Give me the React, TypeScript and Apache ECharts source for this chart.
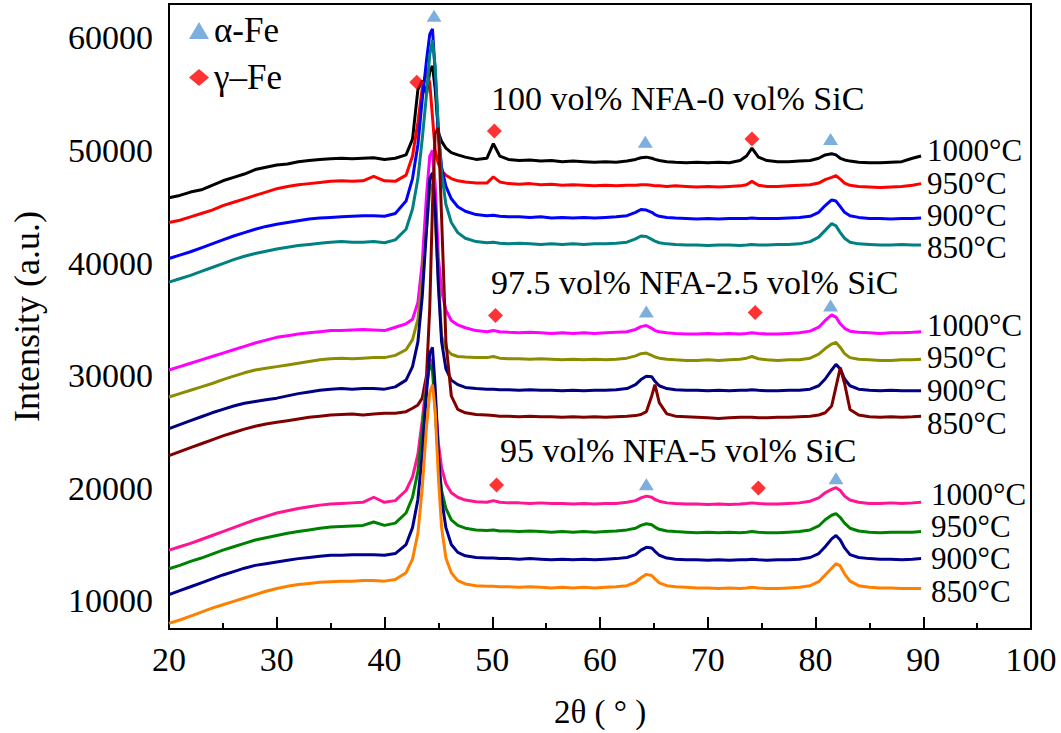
import React, { useEffect, useRef } from "react";
import * as echarts from "echarts";

// 2θ grid shared by all patterns
const twoTheta = [
  20, 21, 22, 23, 24, 25, 26, 27, 28, 29, 30, 31, 32, 33, 34, 35, 36, 37, 38, 39, 40, 41,
  42, 42.6, 43.1, 43.5, 43.9, 44.2, 44.45, 44.7, 45.0, 45.3, 45.7, 46.2, 46.8, 47.5, 48.5,
  49.5, 50.1, 50.7, 51.5, 52.5, 53.5, 54.5, 55.5, 56.5, 57.5, 58.5, 59.5, 60.5, 61.5, 62.5,
  63.3, 63.8, 64.3, 64.8, 65.1, 65.5, 66.2, 67, 68, 69, 70, 71, 72, 73,
  73.6, 74.1, 74.7, 75.5, 76.5, 77.5, 78.5, 79.5, 80.3, 80.9, 81.5, 81.9, 82.3, 82.7, 83.2, 84, 85, 86, 87, 88, 89, 89.8,
];

// 100 vol% NFA-0 vol% SiC
const g1_1000 = [
  45800, 46000, 46300, 46500, 46900, 47300, 47600, 47900, 48300, 48500, 48700, 48800, 49000, 49100, 49200, 49250, 49300, 49250, 49300, 49350, 49200, 49300,
  49600, 51000, 55400, 56200, 55000, 57000, 57500, 55500, 51600, 50800, 50200, 49800, 49600, 49400, 49200,
  49300, 50600, 49500, 49200, 49100, 49150, 49050, 49100, 49000, 49050, 49000, 48950, 49000, 48950, 49050,
  49200, 49350, 49400, 49300, 49200, 49100, 49000, 48950, 48900, 48950, 48900, 48950, 48900, 49100,
  49500, 50200, 49400, 49100, 49000, 49000, 49050, 49100, 49300, 49600, 49700, 49600, 49300, 49150, 49050, 48950, 48900, 48900, 48950, 49000, 49300, 49500,
];
const g1_950 = [
  43600, 43800, 44100, 44400, 44700, 45100, 45400, 45700, 46000, 46300, 46600, 46800, 46950, 47050, 47150, 47250, 47300, 47250, 47300, 47700, 47300, 47250,
  47800, 49500, 52500, 55500, 57000, 56000, 53000, 50000, 48800, 48200, 47800, 47500, 47300, 47200, 47100,
  47100, 47650, 47200, 47050, 47000, 47050, 46950, 47000, 46900, 46950, 46900, 46850, 46900, 46850, 46900,
  46900, 46950, 46950, 46900, 46850, 46850, 46800, 46850, 46800, 46750, 46800, 46750, 46800, 46850,
  46950, 47250, 46900, 46800, 46800, 46850, 46900, 46950, 47100, 47400, 47600, 47750, 47450, 47100, 46900, 46800, 46750, 46700, 46750, 46800, 46900, 47050,
];
const g1_900 = [
  40400, 40700, 41000, 41350, 41700, 42050, 42400, 42700, 43000, 43250, 43450, 43600, 43750, 43900, 44000, 44050, 44100, 44150, 44200, 44200, 44150, 44400,
  45500, 47500, 50500, 54500, 58000, 60300, 60800, 57000, 51500, 48500, 46800, 45700, 45000, 44600, 44300,
  44200, 44250, 44150, 44100, 44100, 44050, 44100, 44000, 44050, 44000, 44050, 44000, 44050, 44100, 44200,
  44500, 44750, 44700, 44500, 44300, 44150, 44050, 44000, 43950, 43900, 43950, 43900, 43950, 43950,
  43950, 44000, 43950, 43950, 43950, 44000, 44050, 44150, 44500, 45100, 45600, 45500, 45000, 44500, 44200, 44050, 43950, 43950, 43900, 43950, 43950, 44000,
];
const g1_850 = [
  38300, 38600, 38900, 39250, 39600, 39950, 40300, 40600, 40850, 41050, 41250, 41400, 41550, 41650, 41750, 41850, 41900, 41850, 41850, 41900, 41800, 42050,
  43000, 44800, 47500, 51000, 55000, 58500, 59800, 57500, 52000, 48000, 45200, 43600, 42700, 42200, 41900,
  41800, 41850, 41750, 41700, 41750, 41700, 41650, 41700, 41650, 41700, 41650, 41700, 41700, 41750, 41850,
  42150, 42400, 42350, 42100, 41950, 41800, 41700, 41650, 41600, 41600, 41550, 41600, 41600, 41550,
  41600, 41650, 41600, 41600, 41650, 41650, 41700, 41900, 42300, 42900, 43500, 43300, 42700, 42200, 41850, 41700, 41650, 41600, 41600, 41650, 41600, 41600,
];

// 97.5 vol% NFA-2.5 vol% SiC
const g2_1000 = [
  30500, 30800, 31100, 31400, 31700, 32000, 32300, 32600, 32900, 33150, 33400, 33550, 33700, 33800, 33900, 34000, 34000, 34050, 34100, 34050, 34000, 34300,
  34600, 35000, 36500, 40000, 46000, 49500, 50000, 47000, 40500, 37500, 35800, 34900, 34500, 34250, 34000,
  33900, 34000, 33900, 33850, 33800, 33850, 33800, 33750, 33800, 33750, 33800, 33750, 33800, 33850, 33900,
  34100, 34350, 34450, 34200, 34000, 33900, 33800, 33750, 33700, 33700, 33750, 33700, 33750, 33700,
  33750, 33800, 33750, 33700, 33700, 33750, 33800, 33950, 34300, 34900, 35400, 35200, 34600, 34200, 33950, 33850, 33800, 33750, 33800, 33800, 33850, 33900,
];
const g2_950 = [
  28100, 28400, 28700, 29000, 29300, 29650, 29950, 30250, 30500, 30650, 30800, 30950, 31100, 31250, 31400, 31500, 31550, 31500, 31550, 31600, 31600, 31800,
  32300, 33200, 35000, 38500, 43000, 46500, 47000, 44000, 38500, 33500, 32400, 31900, 31700, 31650, 31600,
  31600, 31700, 31550, 31500, 31500, 31450, 31500, 31450, 31400, 31450, 31400, 31450, 31400, 31450, 31550,
  31750, 31950, 32000, 31800, 31650, 31550, 31450, 31400, 31350, 31350, 31400, 31350, 31400, 31450,
  31550, 31700, 31500, 31400, 31350, 31400, 31400, 31550, 31900, 32400, 32800, 32950, 32500, 31950, 31600, 31450, 31400, 31350, 31350, 31400, 31400, 31450,
];
const g2_900 = [
  25300, 25650, 26000, 26350, 26700, 27000, 27300, 27550, 27700, 27850, 28000, 28200, 28400, 28550, 28700, 28800, 28850, 28800, 28850, 28850, 28800, 29000,
  29600, 30800, 33000, 37000, 43000, 47500, 48000, 45000, 38000, 33000, 30600, 29600, 29200, 28950, 28850,
  28800, 28800, 28750, 28750, 28700, 28750, 28700, 28700, 28650, 28700, 28650, 28700, 28700, 28750, 28850,
  29200, 29650, 29950, 29900, 29500, 29100, 28850, 28750, 28700, 28700, 28650, 28700, 28650, 28700,
  28700, 28750, 28700, 28650, 28650, 28700, 28700, 28800, 29100, 29700, 30500, 31000, 30600, 29700, 29100, 28800, 28700, 28650, 28700, 28650, 28650, 28650,
];
const g2_850 = [
  22900, 23250, 23600, 23950, 24300, 24650, 24950, 25250, 25500, 25700, 25850, 26000, 26150, 26300, 26400, 26500, 26550, 26600, 26500, 26600, 26650, 26650,
  26800, 27100, 27400, 28000, 30000, 36000, 45000, 51500, 52000, 44000, 33000, 28200, 27000, 26700, 26550,
  26500, 26450, 26400, 26400, 26350, 26400, 26350, 26350, 26300, 26350, 26300, 26350, 26300, 26350, 26400,
  26450, 26550, 26800, 28200, 29200, 27600, 26600, 26400, 26350, 26300, 26250, 26200, 26250, 26300,
  26300, 26300, 26250, 26250, 26300, 26300, 26350, 26400, 26500, 26700, 27300, 29000, 30700, 29300, 27000, 26500, 26350, 26300, 26350, 26300, 26350, 26400,
];

// 95 vol% NFA-5 vol% SiC
const g3_1000 = [
  14500, 14800, 15100, 15450, 15800, 16150, 16500, 16850, 17200, 17500, 17800, 18000, 18200, 18350, 18500, 18600, 18650, 18700, 18750, 19200, 18750, 18900,
  19800, 21000, 23000, 26000, 29500, 31500, 31000, 28000, 24000, 21800, 20400, 19600, 19200, 18950, 18800,
  18750, 18900, 18750, 18700, 18700, 18650, 18700, 18650, 18650, 18600, 18650, 18600, 18650, 18650, 18750,
  18900, 19150, 19300, 19200, 19000, 18850, 18700, 18650, 18600, 18600, 18550, 18600, 18550, 18600,
  18650, 18700, 18650, 18600, 18600, 18650, 18700, 18850, 19150, 19600, 19900, 20050, 19800, 19300, 18950, 18750, 18650, 18650, 18700, 18650, 18700, 18750,
];
const g3_950 = [
  12850, 13150, 13500, 13800, 14150, 14500, 14800, 15100, 15400, 15600, 15800, 16000, 16150, 16300, 16450, 16550, 16600, 16650, 16700, 17000, 16700, 16900,
  17800, 19200, 21500, 25000, 29000, 31000, 30500, 27000, 22500, 19800, 18200, 17200, 16700, 16450, 16300,
  16250, 16300, 16200, 16200, 16150, 16200, 16150, 16100, 16150, 16100, 16150, 16100, 16150, 16200, 16300,
  16450, 16700, 16850, 16750, 16550, 16350, 16200, 16150, 16100, 16050, 16100, 16050, 16100, 16050,
  16100, 16150, 16100, 16050, 16050, 16100, 16150, 16300, 16650, 17200, 17600, 17750, 17400, 16900, 16450, 16200, 16100, 16050, 16100, 16100, 16100, 16150,
];
const g3_900 = [
  10550, 10900, 11250, 11600, 11950, 12300, 12600, 12900, 13150, 13300, 13450, 13600, 13750, 13850, 13950, 14050, 14050, 14100, 14100, 14100, 14050, 14200,
  15000, 16500, 19000, 23000, 28500, 32000, 32500, 29000, 23000, 19000, 16500, 15000, 14300, 14000, 13850,
  13800, 13800, 13750, 13750, 13700, 13750, 13700, 13650, 13700, 13650, 13700, 13650, 13700, 13750, 13850,
  14100, 14500, 14750, 14700, 14400, 14050, 13800, 13700, 13650, 13650, 13600, 13650, 13600, 13650,
  13650, 13700, 13650, 13600, 13650, 13650, 13700, 13850, 14200, 14800, 15500, 15800, 15400, 14700, 14100, 13850, 13750, 13700, 13700, 13650, 13700, 13750,
];
const g3_850 = [
  8000, 8300, 8650, 9000, 9350, 9650, 9950, 10250, 10550, 10850, 11100, 11300, 11450, 11550, 11650, 11700, 11750, 11750, 11800, 11800, 11750, 11900,
  12500, 13700, 16000, 20000, 25500, 28500, 29200, 27000, 21000, 16500, 13800, 12500, 11800, 11500, 11350,
  11300, 11300, 11250, 11250, 11200, 11250, 11200, 11150, 11200, 11150, 11200, 11150, 11200, 11250, 11350,
  11650, 12050, 12350, 12250, 11950, 11600, 11350, 11250, 11200, 11150, 11150, 11100, 11150, 11100,
  11150, 11200, 11150, 11100, 11100, 11150, 11200, 11350, 11700, 12300, 12900, 13300, 13100, 12400, 11750, 11350, 11200, 11150, 11150, 11100, 11100, 11100,
];

// phase markers [2θ, intensity]
const alphaFe = [
  [44.6, 61950], [64.2, 50760], [81.4, 51020],
  [64.3, 35700], [81.4, 36220],
  [64.3, 20360], [81.9, 20890],
];
const gammaFe = [
  [43.0, 56050], [50.2, 51730], [74.1, 51020],
  [50.3, 35340], [74.4, 35600],
  [50.4, 20280], [74.7, 20010],
];

const yTicks = [10000, 20000, 30000, 40000, 50000, 60000];
const tempLabels = ["1000°C", "950°C", "900°C", "850°C"];
const groupTitles = [
  "100 vol% NFA-0 vol% SiC",
  "97.5 vol% NFA-2.5 vol% SiC",
  "95 vol% NFA-5 vol% SiC",
];

const patterns = [
  { name: "g1-1000", label: tempLabels[0], data: g1_1000, color: "#000000", off: [0, -6] },
  { name: "g1-950", label: tempLabels[1], data: g1_950, color: "#FF0000", off: [0, 0] },
  { name: "g1-900", label: tempLabels[2], data: g1_900, color: "#0000FF", off: [0, -2] },
  { name: "g1-850", label: tempLabels[3], data: g1_850, color: "#008080", off: [0, 3] },
  { name: "g2-1000", label: tempLabels[0], data: g2_1000, color: "#FF00FF", off: [0, -6] },
  { name: "g2-950", label: tempLabels[1], data: g2_950, color: "#8C8C00", off: [0, -2] },
  { name: "g2-900", label: tempLabels[2], data: g2_900, color: "#000080", off: [0, 0] },
  { name: "g2-850", label: tempLabels[3], data: g2_850, color: "#800000", off: [0, 7] },
  { name: "g3-1000", label: tempLabels[0], data: g3_1000, color: "#FF1493", off: [4, -8] },
  { name: "g3-950", label: tempLabels[1], data: g3_950, color: "#008000", off: [4, -5] },
  { name: "g3-900", label: tempLabels[2], data: g3_900, color: "#00008F", off: [4, 0] },
  { name: "g3-850", label: tempLabels[3], data: g3_850, color: "#FF8000", off: [4, 3] },
];

const FONT = "'Liberation Serif', 'Times New Roman', serif";

export default function App() {
  const ref = useRef<HTMLDivElement>(null);
  useEffect(() => {
    if (!ref.current) return;
    const chart = echarts.init(ref.current, null, { renderer: "svg" });
    const lineSeries = patterns.map((p) => ({
      type: "line",
      name: p.name,
      data: twoTheta.map((x, i) => [x, p.data[i]]),
      showSymbol: false,
      symbol: "none",
      lineStyle: { color: p.color, width: 3 },
      itemStyle: { color: p.color },
      silent: true,
      endLabel: {
        show: true,
        formatter: () => p.label,
        fontFamily: FONT,
        fontSize: 31,
        lineHeight: 26,
        color: "#000",
        distance: 6,
        offset: p.off,
      },
    }));
    const option: any = {
      animation: false,
      backgroundColor: "#fff",
      grid: {
        left: 169,
        right: 30,
        top: 4,
        bottom: 99,
        show: true,
        borderColor: "#000",
        borderWidth: 2,
        backgroundColor: "transparent",
      },
      legend: {
        data: ["α-Fe", "γ–Fe"],
        orient: "vertical",
        left: 184,
        top: 8,
        itemWidth: 20,
        itemHeight: 17,
        itemGap: 12,
        textStyle: { fontFamily: FONT, fontSize: 35, color: "#000" },
        selectedMode: false,
      },
      xAxis: {
        type: "value",
        min: 20,
        max: 100,
        interval: 10,
        name: "2θ ( ° )",
        nameLocation: "middle",
        nameGap: 66,
        nameTextStyle: { fontFamily: FONT, fontSize: 33, color: "#000" },
        axisLine: { show: true, lineStyle: { color: "#000", width: 2 } },
        axisTick: { show: true, inside: true, length: 12, lineStyle: { color: "#000", width: 2 } },
        minorTick: { show: true, splitNumber: 2, length: 6, lineStyle: { color: "#000", width: 2 } },
        axisLabel: { fontFamily: FONT, fontSize: 34, color: "#000", margin: 13 },
        splitLine: { show: false },
      },
      yAxis: {
        type: "value",
        min: 7500,
        max: 63000,
        name: "Intensity (a.u.)",
        nameLocation: "middle",
        nameGap: 124,
        nameTextStyle: { fontFamily: FONT, fontSize: 36, color: "#000" },
        axisLine: { show: true, lineStyle: { color: "#000", width: 2 } },
        axisTick: { show: false },
        axisLabel: {
          customValues: yTicks,
          formatter: (v: number) => String(v),
          fontFamily: FONT,
          fontSize: 34,
          color: "#000",
          margin: 16,
        },
        splitLine: { show: false },
      },
      graphic: [
        { type: "text", x: 491, y: 98, style: { text: groupTitles[0], font: `34px ${FONT}`, fill: "#000", verticalAlign: "middle" } },
        { type: "text", x: 491, y: 282, style: { text: groupTitles[1], font: `34px ${FONT}`, fill: "#000", verticalAlign: "middle" } },
        { type: "text", x: 500, y: 450, style: { text: groupTitles[2], font: `34px ${FONT}`, fill: "#000", verticalAlign: "middle" } },
      ],
      series: [
        ...lineSeries,
        {
          type: "scatter",
          name: "α-Fe",
          data: alphaFe,
          symbol: "triangle",
          symbolSize: [15, 12],
          itemStyle: { color: "#5B9BD5" },
          z: 5,
        },
        {
          type: "scatter",
          name: "γ–Fe",
          data: gammaFe,
          symbol: "diamond",
          symbolSize: [15, 15],
          itemStyle: { color: "#FF0000" },
          z: 5,
        },
      ],
    };
    chart.setOption(option);
    return () => chart.dispose();
  }, []);
  return (
    <div
      ref={ref}
      style={{ position: "absolute", left: 0, top: 0, width: 1061, height: 733, background: "#fff" }}
    />
  );
}
